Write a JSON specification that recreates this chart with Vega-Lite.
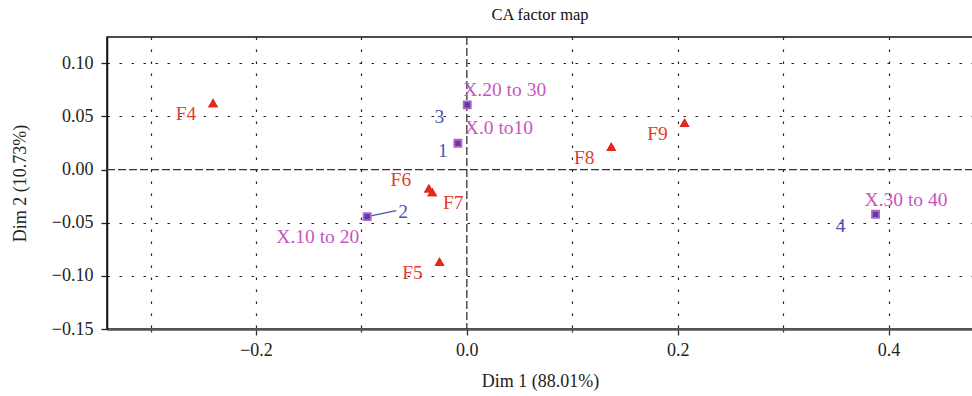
{
  "$schema": "https://vega.github.io/schema/vega-lite/v6.json",
  "width": 866,
  "height": 292,
  "autosize": {"type": "none"},
  "padding": {"left": 107, "top": 37, "right": 0, "bottom": 67},
  "background": "white",
  "title": {"text": "CA factor map", "font": "Liberation Serif", "fontSize": 16.5, "fontWeight": "normal", "color": "#111", "offset": 13},
  "config": {
    "view": {"stroke": "#111", "strokeWidth": 1.5},
    "axis": {"labelFont": "Liberation Serif", "titleFont": "Liberation Serif", "titleFontWeight": "normal", "labelColor": "#222", "titleColor": "#222"}
  },
  "data": {"values": [
    {"id": "F4", "group": "row", "dim1": -0.2407, "dim2": 0.0628},
    {"id": "F5", "group": "row", "dim1": -0.0259, "dim2": -0.0866},
    {"id": "F6", "group": "row", "dim1": -0.0360, "dim2": -0.0176},
    {"id": "F7", "group": "row", "dim1": -0.0328, "dim2": -0.0211},
    {"id": "F8", "group": "row", "dim1": 0.1370, "dim2": 0.0215},
    {"id": "F9", "group": "row", "dim1": 0.2065, "dim2": 0.0441},
    {"id": "1", "name": "X.0 to10", "group": "col", "dim1": -0.0085, "dim2": 0.0247},
    {"id": "2", "name": "X.10 to 20", "group": "col", "dim1": -0.0945, "dim2": -0.0443},
    {"id": "3", "name": "X.20 to 30", "group": "col", "dim1": 0.0004, "dim2": 0.0608},
    {"id": "4", "name": "X.30 to 40", "group": "col", "dim1": 0.3877, "dim2": -0.0421}
  ]},
  "layer": [
    {
      "transform": [{"filter": "datum.group == 'row'"}],
      "mark": {"type": "point", "shape": "triangle-up", "filled": true, "size": 100, "color": "#E02A20", "opacity": 1, "clip": true},
      "encoding": {
        "x": {"field": "dim1", "type": "quantitative",
          "scale": {"domain": [-0.3413, 0.4801], "nice": false, "zero": false},
          "axis": {
            "title": "Dim 1 (88.01%)", "titleFontSize": 18, "titlePadding": 13,
            "values": [-0.3, -0.2, -0.1, 0, 0.1, 0.2, 0.3, 0.4],
            "labelExpr": "abs(round(datum.value*10)) % 2 == 0 ? format(datum.value, '.1f') : ''",
            "labelFontSize": 18, "labelPadding": 6,
            "tickSize": {"condition": {"test": "abs(round(datum.value*10)) % 2 == 0", "value": 6}, "value": 3},
            "tickColor": "#333", "tickWidth": 1.3,
            "domainColor": "#555", "domainWidth": 2.5,
            "grid": true, "gridColor": "#222", "gridDash": [2.5, 9.5], "gridWidth": 1.2,
            "gridOpacity": {"condition": {"test": "datum.value == 0", "value": 0}, "value": 1}
          }
        },
        "y": {"field": "dim2", "type": "quantitative",
          "scale": {"domain": [-0.15, 0.1247], "nice": false, "zero": false},
          "axis": {
            "title": "Dim 2 (10.73%)", "titleFontSize": 18, "titlePadding": 22,
            "values": [-0.15, -0.125, -0.1, -0.075, -0.05, -0.025, 0, 0.025, 0.05, 0.075, 0.1],
            "labelExpr": "abs(round(datum.value*1000)) % 50 == 0 ? format(datum.value, '.2f') : ''",
            "labelFontSize": 18, "labelPadding": 8,
            "tickSize": {"condition": {"test": "abs(round(datum.value*1000)) % 50 == 0", "value": 6}, "value": 3},
            "tickColor": "#222", "tickWidth": 1.3,
            "domainColor": "#111", "domainWidth": 1.5,
            "grid": true, "gridColor": "#222", "gridDash": [2.5, 9.5], "gridWidth": 1.2,
            "gridOpacity": {"condition": {"test": "datum.value == 0", "value": 0}, "value": 1}
          }
        }
      }
    },
    {
      "data": {"values": [{"ref": "zero"}]},
      "mark": {"type": "rule", "color": "#333", "strokeWidth": 1.3, "strokeDash": [8, 3]},
      "encoding": {"y": {"datum": 0, "type": "quantitative"}}
    },
    {
      "data": {"values": [{"ref": "zero"}]},
      "mark": {"type": "rule", "color": "#333", "strokeWidth": 1.3, "strokeDash": [8, 3]},
      "encoding": {"x": {"datum": 0, "type": "quantitative"}}
    },
    {
      "transform": [{"filter": "datum.id == '2'"}],
      "mark": {"type": "rule", "color": "#4B55B0", "strokeWidth": 1.3},
      "encoding": {
        "x": {"field": "dim1", "type": "quantitative"},
        "y": {"field": "dim2", "type": "quantitative"},
        "x2": {"datum": -0.067},
        "y2": {"datum": -0.0387}
      }
    },
    {
      "transform": [{"filter": "datum.group == 'row'"}],
      "mark": {"type": "point", "shape": "triangle-up", "filled": true, "size": 100, "color": "#E02A20", "opacity": 1, "clip": true},
      "encoding": {
        "x": {"field": "dim1", "type": "quantitative"},
        "y": {"field": "dim2", "type": "quantitative"}
      }
    },
    {
      "transform": [{"filter": "datum.group == 'col'"}],
      "mark": {"type": "square", "filled": true, "size": 50, "color": "#3D4BAB", "stroke": "#C85AC4", "strokeWidth": 1.8, "opacity": 1, "clip": true},
      "encoding": {
        "x": {"field": "dim1", "type": "quantitative"},
        "y": {"field": "dim2", "type": "quantitative"}
      }
    },
    {
      "transform": [{"filter": "indexof(['F4','F5','F8','F9'], datum.id) >= 0"}],
      "mark": {"type": "text", "dx": -27, "dy": 11, "font": "Liberation Serif", "fontSize": 19.5, "color": "#E0402F", "baseline": "middle", "align": "center"},
      "encoding": {"x": {"field": "dim1", "type": "quantitative"}, "y": {"field": "dim2", "type": "quantitative"}, "text": {"field": "id"}}
    },
    {
      "transform": [{"filter": "datum.id == 'F6'"}],
      "mark": {"type": "text", "dx": -28, "dy": -8, "font": "Liberation Serif", "fontSize": 19.5, "color": "#E0402F", "baseline": "middle", "align": "center"},
      "encoding": {"x": {"field": "dim1", "type": "quantitative"}, "y": {"field": "dim2", "type": "quantitative"}, "text": {"field": "id"}}
    },
    {
      "transform": [{"filter": "datum.id == 'F7'"}],
      "mark": {"type": "text", "dx": 21, "dy": 11, "font": "Liberation Serif", "fontSize": 19.5, "color": "#E0402F", "baseline": "middle", "align": "center"},
      "encoding": {"x": {"field": "dim1", "type": "quantitative"}, "y": {"field": "dim2", "type": "quantitative"}, "text": {"field": "id"}}
    },
    {
      "transform": [{"filter": "datum.id == '1'"}],
      "mark": {"type": "text", "dx": -15, "dy": 8, "font": "Liberation Serif", "fontSize": 19.5, "color": "#4B55B0", "baseline": "middle", "align": "center"},
      "encoding": {"x": {"field": "dim1", "type": "quantitative"}, "y": {"field": "dim2", "type": "quantitative"}, "text": {"field": "id"}}
    },
    {
      "transform": [{"filter": "datum.id == '2'"}],
      "mark": {"type": "text", "dx": 36, "dy": -5, "font": "Liberation Serif", "fontSize": 19.5, "color": "#4B55B0", "baseline": "middle", "align": "center"},
      "encoding": {"x": {"field": "dim1", "type": "quantitative"}, "y": {"field": "dim2", "type": "quantitative"}, "text": {"field": "id"}}
    },
    {
      "transform": [{"filter": "datum.id == '3'"}],
      "mark": {"type": "text", "dx": -28, "dy": 12, "font": "Liberation Serif", "fontSize": 19.5, "color": "#4B55B0", "baseline": "middle", "align": "center"},
      "encoding": {"x": {"field": "dim1", "type": "quantitative"}, "y": {"field": "dim2", "type": "quantitative"}, "text": {"field": "id"}}
    },
    {
      "transform": [{"filter": "datum.id == '4'"}],
      "mark": {"type": "text", "dx": -35, "dy": 12, "font": "Liberation Serif", "fontSize": 19.5, "color": "#4B55B0", "baseline": "middle", "align": "center"},
      "encoding": {"x": {"field": "dim1", "type": "quantitative"}, "y": {"field": "dim2", "type": "quantitative"}, "text": {"field": "id"}}
    },
    {
      "transform": [{"filter": "datum.id == '1'"}],
      "mark": {"type": "text", "dx": 7, "dy": -15, "font": "Liberation Serif", "fontSize": 19.5, "color": "#C855C0", "baseline": "middle", "align": "left"},
      "encoding": {"x": {"field": "dim1", "type": "quantitative"}, "y": {"field": "dim2", "type": "quantitative"}, "text": {"field": "name"}}
    },
    {
      "transform": [{"filter": "datum.id == '2'"}],
      "mark": {"type": "text", "dx": -8, "dy": 20, "font": "Liberation Serif", "fontSize": 19.5, "color": "#C855C0", "baseline": "middle", "align": "right"},
      "encoding": {"x": {"field": "dim1", "type": "quantitative"}, "y": {"field": "dim2", "type": "quantitative"}, "text": {"field": "name"}}
    },
    {
      "transform": [{"filter": "datum.id == '3'"}],
      "mark": {"type": "text", "dx": -4, "dy": -15, "font": "Liberation Serif", "fontSize": 19.5, "color": "#C855C0", "baseline": "middle", "align": "left"},
      "encoding": {"x": {"field": "dim1", "type": "quantitative"}, "y": {"field": "dim2", "type": "quantitative"}, "text": {"field": "name"}}
    },
    {
      "transform": [{"filter": "datum.id == '4'"}],
      "mark": {"type": "text", "dx": -11, "dy": -14, "font": "Liberation Serif", "fontSize": 19.5, "color": "#C855C0", "baseline": "middle", "align": "left"},
      "encoding": {"x": {"field": "dim1", "type": "quantitative"}, "y": {"field": "dim2", "type": "quantitative"}, "text": {"field": "name"}}
    }
  ]
}
